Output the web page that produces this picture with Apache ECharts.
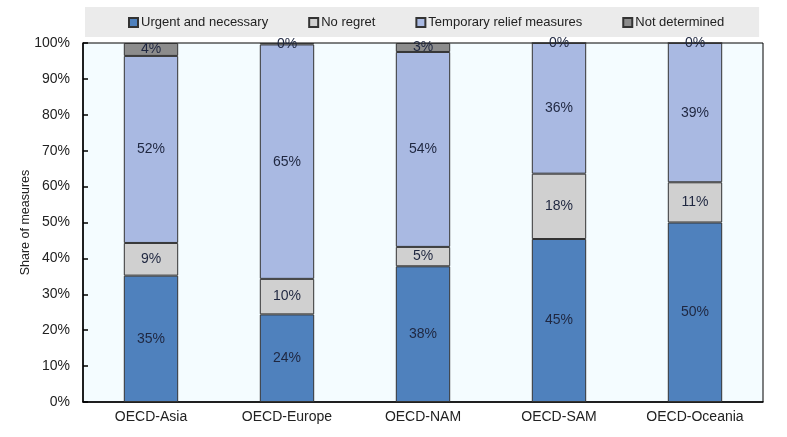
<!DOCTYPE html>
<html><head><meta charset="utf-8">
<script src="https://cdn.jsdelivr.net/npm/echarts@6/dist/echarts.min.js"></script>
<style>html,body{margin:0;padding:0;background:#fff}#c{width:787px;height:437px}</style>
</head><body><div id="c"></div>
<script>
const categories = ['OECD-Asia','OECD-Europe','OECD-NAM','OECD-SAM','OECD-Oceania'];
const urgent = [35.2, 24.4, 37.8, 45.4, 50.0];
const noRegret = [9.1, 9.9, 5.4, 18.2, 11.2];
const temporary = [52.1, 65.3, 54.3, 36.4, 38.8];
const notDetermined = [3.6, 0.4, 2.5, 0, 0];
const seriesNames = ['Urgent and necessary','No regret','Temporary relief measures','Not determined'];
const yTicks = [0,10,20,30,40,50,60,70,80,90,100];

const colors = ['#4f81bd','#d0d0d0','#a9b9e2','#8c8c8c'];
const font = '"Liberation Sans", Arial, sans-serif';
const dataArr = [urgent, noRegret, temporary, notDetermined];

const chart = echarts.init(document.getElementById('c'), null, {renderer:'canvas'});
chart.setOption({
  animation:false,
  textStyle:{fontFamily:font},
  legend:{
    data: seriesNames,
    left:85, top:7,
    padding:[9,35,8,43],
    backgroundColor:'#ebebeb',
    itemWidth:9, itemHeight:9, itemGap:40,
    icon:'rect',
    textStyle:{fontSize:13,color:'#222',fontFamily:font, padding:[0,0,0,-2]},
    selectedMode:false
  },
  grid:{left:83,right:24,top:43,bottom:35,show:true,backgroundColor:'#f4fcff',borderColor:'#000',borderWidth:1},
  xAxis:{
    type:'category', data:categories,
    axisLine:{lineStyle:{color:'#000',width:1.5}},
    axisTick:{inside:true,length:5,lineStyle:{color:'#000',width:1.5}},
    axisLabel:{fontSize:14,color:'#222',margin:8,fontFamily:font}
  },
  yAxis:{
    type:'value', min:0, max:100, interval:10,
    name:'Share of measures', nameLocation:'middle', nameGap:51, nameMoveOverlap:false,
    nameTextStyle:{fontSize:12.5,color:'#222',fontFamily:font},
    axisLine:{show:true,lineStyle:{color:'#000',width:1.5}},
    axisTick:{show:true,inside:true,length:5,lineStyle:{color:'#000',width:1.5}},
    splitLine:{show:false},
    axisLabel:{fontSize:14,color:'#222',margin:13,fontFamily:font,
      formatter:v=> yTicks.includes(v) ? v+'%' : ''}
  },
  series: seriesNames.map((n,i)=>({
    name:n, type:'bar', stack:'s', barWidth:'40%',
    data:dataArr[i],
    itemStyle:{color:colors[i],borderColor:'#333',borderWidth:1},
    label:{show:true,position:'inside',fontSize:14,color:'#1f2740',fontFamily:font,
      formatter:p=>Math.round(p.value)+'%'}
  }))
});
</script></body></html>
